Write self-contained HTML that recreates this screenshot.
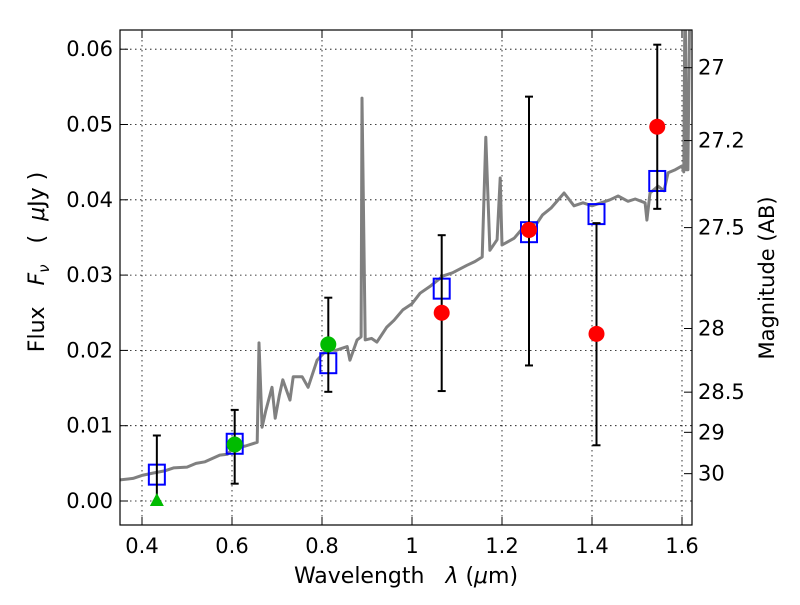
<!DOCTYPE html>
<html><head><meta charset="utf-8"><style>
body{margin:0;background:#fff;}
svg{font-family:"DejaVu Sans","Liberation Sans",sans-serif;}
.t{white-space:pre;}
</style></head><body>
<svg id="chart" width="800" height="600" viewBox="0 0 800 600" xmlns="http://www.w3.org/2000/svg">
<defs><clipPath id="clip"><rect x="120" y="30" width="572" height="495"/></clipPath></defs>
<rect x="0" y="0" width="800" height="600" fill="#fff"/>
<g id="grid"></g>
<g id="marks" clip-path="url(#clip)"></g>
<rect x="120" y="30" width="572" height="495" fill="none" stroke="#000" stroke-width="1.2"/>
<g id="axes"></g>
<text class="t" x="406" y="583" font-size="22" text-anchor="middle">Wavelength   <tspan font-style="italic">λ</tspan> (<tspan font-style="italic">μ</tspan>m)</text>
<text class="t" transform="translate(44,262) rotate(-90)" font-size="22" text-anchor="middle">Flux   <tspan font-style="italic">F</tspan><tspan font-style="italic" font-size="15" dy="5">ν</tspan><tspan dy="-5">   (  </tspan><tspan font-style="italic">μ</tspan>Jy )</text>
<text class="t" transform="translate(774,278) rotate(-90)" font-size="21" text-anchor="middle">Magnitude (AB)</text>
</svg>
<script>
const NS="http://www.w3.org/2000/svg";
const xTicks=[0.4,0.6,0.8,1.0,1.2,1.4,1.6];
const xTickLabels=["0.4","0.6","0.8","1","1.2","1.4","1.6"];
const yTicks=[0,0.01,0.02,0.03,0.04,0.05,0.06];
const yTickLabels=["0.00","0.01","0.02","0.03","0.04","0.05","0.06"];
const magTicks=[27,27.2,27.5,28,28.5,29,30];
const magTickLabels=["27","27.2","27.5","28","28.5","29","30"];
const specLambda=[0.351,0.38,0.40,0.424,0.45,0.47,0.500,0.52,0.54,0.573,0.59,0.602,0.63,0.656,0.660,0.667,0.675,0.689,0.696,0.705,0.713,0.729,0.736,0.756,0.769,0.789,0.811,0.83,0.856,0.862,0.878,0.887,0.889,0.896,0.91,0.922,0.944,0.96,0.980,1.00,1.018,1.04,1.069,1.09,1.122,1.14,1.156,1.164,1.173,1.189,1.196,1.200,1.227,1.24,1.256,1.278,1.29,1.309,1.338,1.360,1.380,1.40,1.420,1.44,1.458,1.48,1.496,1.518,1.522,1.529,1.547,1.56,1.569,1.585,1.600,1.604,1.607,1.610,1.613,1.618,1.625];
const specFlux=[0.0028,0.0030,0.0034,0.0037,0.0040,0.0044,0.0045,0.0050,0.0052,0.0061,0.0062,0.0070,0.0073,0.0078,0.0210,0.0098,0.0120,0.0151,0.0110,0.0140,0.0161,0.0134,0.0165,0.0165,0.0151,0.0187,0.0201,0.0200,0.0205,0.0187,0.0214,0.0218,0.0535,0.0214,0.0216,0.0211,0.0231,0.0240,0.0254,0.0262,0.0276,0.0285,0.0299,0.0303,0.0313,0.0318,0.0324,0.0483,0.0333,0.0347,0.0429,0.0340,0.0349,0.0358,0.0369,0.0369,0.0380,0.0389,0.0409,0.0392,0.0396,0.0392,0.0396,0.0400,0.0405,0.0398,0.0401,0.0396,0.0373,0.0409,0.0418,0.0412,0.0436,0.0440,0.0445,0.0437,0.0700,0.0440,0.0440,0.0700,0.0700];
const modelLambda=[0.433,0.606,0.814,1.066,1.26,1.41,1.545];
const modelFlux=[0.0035,0.0076,0.0183,0.0282,0.0357,0.0381,0.0425];
const greenLambda=[0.606,0.814];
const greenFlux=[0.0075,0.0208];
const greenLo=[0.0023,0.0145];
const greenHi=[0.0121,0.0270];
const triLambda=[0.433];
const triFlux=[0.0];
const triLo=[0.0];
const triHi=[0.0087];
const redLambda=[1.066,1.26,1.41,1.545];
const redFlux=[0.0250,0.0360,0.0222,0.0497];
const redLo=[0.0146,0.0180,0.0074,0.0388];
const redHi=[0.0353,0.0537,0.0369,0.0606];

const X=l=>142+(l-0.4)*450;
const Y=f=>501-f*7530;
const magToFlux=m=>Math.pow(10,(23.9-m)/2.5);
function mk(tag,attrs,parent){const e=document.createElementNS(NS,tag);for(const k in attrs)e.setAttribute(k,attrs[k]);parent.appendChild(e);return e;}
const grid=document.getElementById('grid'),marks=document.getElementById('marks'),axes=document.getElementById('axes');
xTicks.forEach((t,i)=>{
  const l=mk('line',{x1:X(t),x2:X(t),y1:30,y2:525,stroke:'#000','stroke-width':0.8,'stroke-dasharray':'1.5,3.5'},grid);
  
  
  mk('line',{x1:X(t),x2:X(t),y1:525,y2:517,stroke:'#000'},axes);
  mk('line',{x1:X(t),x2:X(t),y1:30,y2:38,stroke:'#000'},axes);
  const tx=mk('text',{x:X(t),y:553,'font-size':21,'text-anchor':'middle'},axes);
  tx.textContent=xTickLabels[i];
  
  
});
yTicks.forEach((t,i)=>{
  const l=mk('line',{x1:120,x2:692,y1:Y(t),y2:Y(t),stroke:'#000','stroke-width':0.8,'stroke-dasharray':'1.5,3.5'},grid);
  
  
  mk('line',{x1:120,x2:128,y1:Y(t),y2:Y(t),stroke:'#000'},axes);
  const tx=mk('text',{x:113,y:Y(t)+7,'font-size':21,'text-anchor':'end'},axes);
  tx.textContent=yTickLabels[i];
  
  
});
magTicks.forEach((m,i)=>{
  const y=Y(magToFlux(m));
  mk('line',{x1:692,x2:684,y1:y,y2:y,stroke:'#000'},axes);
  const tx=mk('text',{x:698,y:y+7,'font-size':21},axes);
  tx.textContent=magTickLabels[i];
  
  
});
const d=specLambda.map((l,i)=>(i?'L':'M')+X(l).toFixed(1)+','+Y(specFlux[i]).toFixed(1)).join('');
const sp=mk('path',{d:d,fill:'none',stroke:'#808080','stroke-width':3,'stroke-linejoin':'round'},marks);


function errbar(l,lo,hi){
  const g=mk('g',{stroke:'#000','stroke-width':2},marks);
  
  
  mk('line',{x1:X(l),x2:X(l),y1:Y(lo),y2:Y(hi)},g);
  mk('line',{x1:X(l)-4,x2:X(l)+4,y1:Y(lo),y2:Y(lo)},g);
  mk('line',{x1:X(l)-4,x2:X(l)+4,y1:Y(hi),y2:Y(hi)},g);
}
modelLambda.forEach((l,i)=>{
  const r=mk('rect',{x:X(l)-8,y:Y(modelFlux[i])-10,width:16,height:20,fill:'none',stroke:'#0000ff','stroke-width':2},marks);
  
  
});
greenLambda.forEach((l,i)=>{
  errbar(l,greenLo[i],greenHi[i]);
  const c=mk('circle',{cx:X(l),cy:Y(greenFlux[i]),r:8,fill:'#00bb00'},marks);
  
  
});
triLambda.forEach((l,i)=>{
  errbar(l,triLo[i],triHi[i]);
  const x=X(l),y=Y(triFlux[i]);
  const p=mk('polygon',{points:`${x},${y-8} ${x-7},${y+5} ${x+7},${y+5}`,fill:'#00bb00'},marks);
  
  
});
redLambda.forEach((l,i)=>{
  errbar(l,redLo[i],redHi[i]);
  const c=mk('circle',{cx:X(l),cy:Y(redFlux[i]),r:8,fill:'#ff0000'},marks);
  
  
});
</script>
</body></html>
